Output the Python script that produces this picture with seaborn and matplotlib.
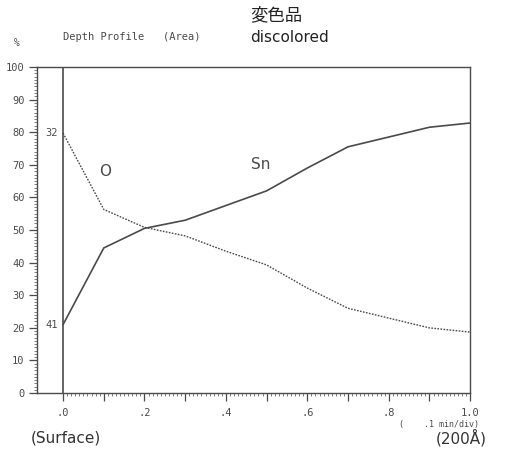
import matplotlib
matplotlib.use("Agg")
import matplotlib.pyplot as plt
import pandas as pd
import seaborn as sns
from matplotlib.ticker import FixedLocator, MultipleLocator

# depth (fraction of 200 A), atomic %
depth = [0.0, 0.1, 0.2, 0.3, 0.4, 0.5, 0.6, 0.7, 0.8, 0.9, 1.0]
sn_pct = [21.0, 44.5, 50.5, 53.0, 57.5, 62.0, 69.0, 75.5, 78.5, 81.5, 82.8]
o_pct = [79.7, 56.3, 50.8, 48.2, 43.5, 39.3, 32.2, 26.0, 23.0, 20.0, 18.7]

xtick_vals = [0.0, 0.2, 0.4, 0.6, 0.8, 1.0]
xtick_labels = [".0", ".2", ".4", ".6", ".8", "1.0"]
ytick_vals = list(range(0, 101, 10))

sns.set_style("ticks")
plt.rcParams["font.family"] = ["DejaVu Sans", "Noto Sans CJK JP"]

ink = "#4a4a4a"
df = pd.DataFrame({"depth": depth, "Sn": sn_pct, "O": o_pct})

fig = plt.figure(figsize=(5.05, 4.55), dpi=100)
ax = fig.add_axes([0.0733, 0.136, 0.8577, 0.717])

sns.lineplot(data=df, x="depth", y="Sn", ax=ax, color=ink, lw=1.2)
sns.lineplot(data=df, x="depth", y="O", ax=ax, color=ink, lw=1.0, linestyle=(0, (1.2, 1.0)))

ax.set_xlim(-0.064, 1.0)
ax.set_ylim(0, 100)
ax.axvline(0, color=ink, lw=1.2)

for s in ax.spines.values():
    s.set_color(ink)
    s.set_linewidth(1.0)

mono = "DejaVu Sans Mono"
major_x = [i / 10 for i in range(11)]
ax.xaxis.set_major_locator(FixedLocator(major_x))
ax.xaxis.set_minor_locator(FixedLocator([i / 100 for i in range(101)]))
ax.set_xticklabels([xtick_labels[i // 2] if i % 2 == 0 else "" for i in range(11)],
                   fontfamily=mono, fontsize=7.5, color=ink)
ax.set_yticks(ytick_vals)
ax.set_yticklabels([str(v) for v in ytick_vals], fontfamily=mono, fontsize=7.5, color=ink)
ax.yaxis.set_minor_locator(MultipleLocator(1))
ax.tick_params(axis="both", which="major", length=6, width=0.9, color=ink, pad=3)
ax.tick_params(axis="both", which="minor", length=2.5, width=0.5, color=ink)
ax.tick_params(axis="x", which="major", pad=5)
ax.set_xlabel("")
ax.set_ylabel("")

# point labels at the surface
ax.text(-0.012, o_pct[0], "32", ha="right", va="center", fontsize=7.5, fontfamily=mono, color=ink)
ax.text(-0.012, sn_pct[0], "41", ha="right", va="center", fontsize=7.5, fontfamily=mono, color=ink)
ax.text(0.103, 68, "O", ha="center", va="center", fontsize=11, color=ink)
ax.text(0.485, 70, "Sn", ha="center", va="center", fontsize=11, color=ink)

# header and footer text
fig.text(0.125, 0.918, "Depth Profile   (Area)", fontsize=7.5, fontfamily=mono, color=ink, va="center")
fig.text(0.028, 0.905, "%", fontsize=7, fontfamily=mono, color=ink, va="center")
fig.text(0.495, 0.967, "変色品", fontsize=12.5, fontfamily=["Noto Sans CJK JP"], color="#222222", va="center")
fig.text(0.495, 0.918, "discolored", fontsize=11, color="#222222", va="center")
fig.text(0.79, 0.066, "(    .1 min/div)", fontsize=6, fontfamily=mono, color=ink, va="center")
fig.text(0.06, 0.037, "(Surface)", fontsize=11, color="#333333", va="center")
fig.text(0.862, 0.037, "(200Å)", fontsize=11, color="#333333", va="center")

fig.savefig("out.png", dpi=100)
